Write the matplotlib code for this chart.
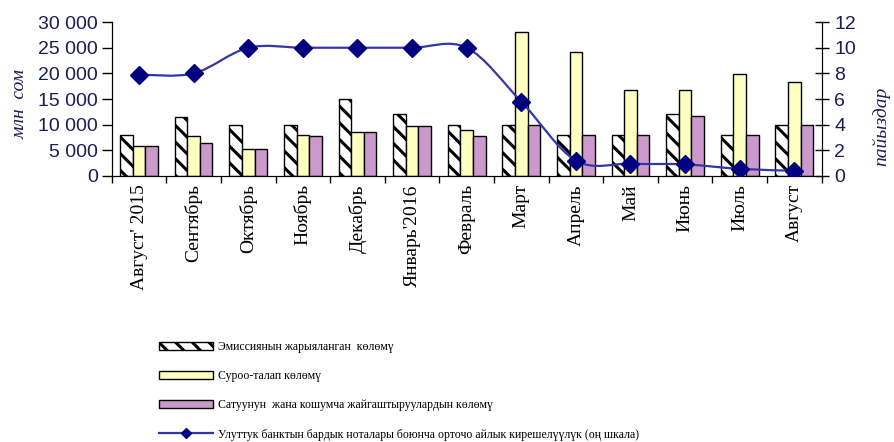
import matplotlib
matplotlib.use("Agg")
import matplotlib.pyplot as plt
import numpy as np
from matplotlib.path import Path
from matplotlib.patches import PathPatch, Patch
from matplotlib.lines import Line2D
from matplotlib.ticker import FuncFormatter

months = ["Август' 2015", "Сентябрь", "Октябрь", "Ноябрь", "Декабрь", "Январь'2016",
          "Февраль", "Март", "Апрель", "Май", "Июнь", "Июль", "Август"]
emission = [8000, 11500, 10000, 10000, 15000, 12000, 10000, 10000, 8000, 8000, 12000, 8000, 10000]
demand = [5800, 7700, 5300, 8000, 8500, 9700, 8900, 28000, 24200, 16700, 16700, 19900, 18300]
placed = [5800, 6500, 5300, 7700, 8500, 9700, 7700, 10000, 8000, 8000, 11600, 8000, 10000]
yield_pct = [7.9, 8.0, 10.0, 10.0, 10.0, 10.0, 10.0, 5.8, 1.2, 0.95, 0.9, 0.55, 0.4]

labels = ["Эмиссиянын жарыяланган  көлөмү",
          "Суроо-талап көлөмү",
          "Сатуунун  жана кошумча жайгаштыруулардын көлөмү",
          "Улуттук банктын бардык ноталары боюнча орточо айлык кирешелүүлүк (оң шкала)"]

serif = "Liberation Serif"
tick_font = "Liberation Sans"
navy = "#1c1c55"
plt.rcParams["hatch.linewidth"] = 2.2
plt.rcParams["hatch.color"] = "#404040"


def smooth_path(xs, ys):
    # Catmull-Rom style bezier, like a smoothed spreadsheet line
    pts = np.column_stack([xs, ys]).astype(float)
    verts = [pts[0]]
    codes = [Path.MOVETO]
    n = len(pts)
    for i in range(n - 1):
        p0 = pts[max(i - 1, 0)]
        p1 = pts[i]
        p2 = pts[i + 1]
        p3 = pts[min(i + 2, n - 1)]
        c1 = p1 + (p2 - p0) / 6.0
        c2 = p2 - (p3 - p1) / 6.0
        verts += [c1, c2, p2]
        codes += [Path.CURVE4] * 3
    return Path(verts, codes)


fig = plt.figure(figsize=(8.94, 4.42), dpi=100)
ax = fig.add_axes([0.125, 0.602, 0.794, 0.348])
ax2 = ax.twinx()

x = np.arange(len(months))
w = 0.23
ax.bar(x - w, emission, w, color="white", edgecolor="black", hatch="\\\\", linewidth=1.0, zorder=2)
ax.bar(x, demand, w, color="#ffffc0", edgecolor="black", linewidth=1.0, zorder=2)
ax.bar(x + w, placed, w, color="#cc99cc", edgecolor="black", linewidth=1.0, zorder=2)

ax.set_xlim(-0.5, len(months) - 0.5)
ax.set_ylim(0, 30000)
ax.set_yticks(np.arange(0, 30001, 5000))
ax.yaxis.set_major_formatter(FuncFormatter(lambda v, p: f"{int(v):,}".replace(",", " ")))

ax.set_xticks(np.arange(-0.5, len(months), 1.0))
ax.set_xticklabels([])
ax.set_xticks(x, minor=True)
ax.set_xticklabels(months, minor=True, rotation=90, fontfamily=serif, fontsize=14)
ax.tick_params(axis="x", which="major", direction="out", length=5, width=1)
ax.tick_params(axis="x", which="minor", length=0, pad=6)
ax.tick_params(axis="y", direction="out", length=7, width=1, labelsize=14, labelcolor=navy, pad=3)
for t in ax.get_yticklabels():
    t.set_fontfamily(tick_font)

ax2.add_patch(PathPatch(smooth_path(x, yield_pct), fill=False, edgecolor="#3535a5", linewidth=1.6, zorder=3))
ax2.plot(x, yield_pct, linestyle="none", marker="D", markersize=9, color="#000080", zorder=4)
ax2.set_ylim(0, 12)
ax2.set_yticks(np.arange(0, 13, 2))
ax2.tick_params(axis="y", direction="inout", length=10, width=1, labelsize=14, labelcolor=navy, pad=4)
for t in ax2.get_yticklabels():
    t.set_fontfamily(tick_font)

for a in (ax, ax2):
    a.spines["top"].set_visible(False)
    a.set_facecolor("none")
for s in ("left", "right", "bottom"):
    ax2.spines[s].set_color("black")
ax.set_zorder(1)
ax2.set_zorder(2)

fig.text(0.022, 0.765, "млн  сом", rotation=90, ha="center", va="center",
         fontfamily=serif, fontstyle="italic", fontsize=14, color=navy)
fig.text(0.986, 0.715, "пайыздар", rotation=90, ha="center", va="center",
         fontfamily=serif, fontstyle="italic", fontsize=14, color=navy)

handles = [
    Patch(facecolor="white", edgecolor="black", hatch="\\\\", linewidth=1.0),
    Patch(facecolor="#ffffc0", edgecolor="black", linewidth=1.0),
    Patch(facecolor="#cc99cc", edgecolor="black", linewidth=1.0),
    Line2D([], [], color="#3535a5", linewidth=1.6, marker="D", markersize=5,
           markerfacecolor="#000080", markeredgecolor="#000080"),
]
fig.legend(handles, labels, loc="upper left", bbox_to_anchor=(0.178, 0.228),
           frameon=False, prop={"family": serif, "size": 8.5},
           handlelength=4.6, handleheight=0.7, labelspacing=1.45,
           handletextpad=0.4, borderpad=0, borderaxespad=0)

fig.savefig("out.png", dpi=100)
